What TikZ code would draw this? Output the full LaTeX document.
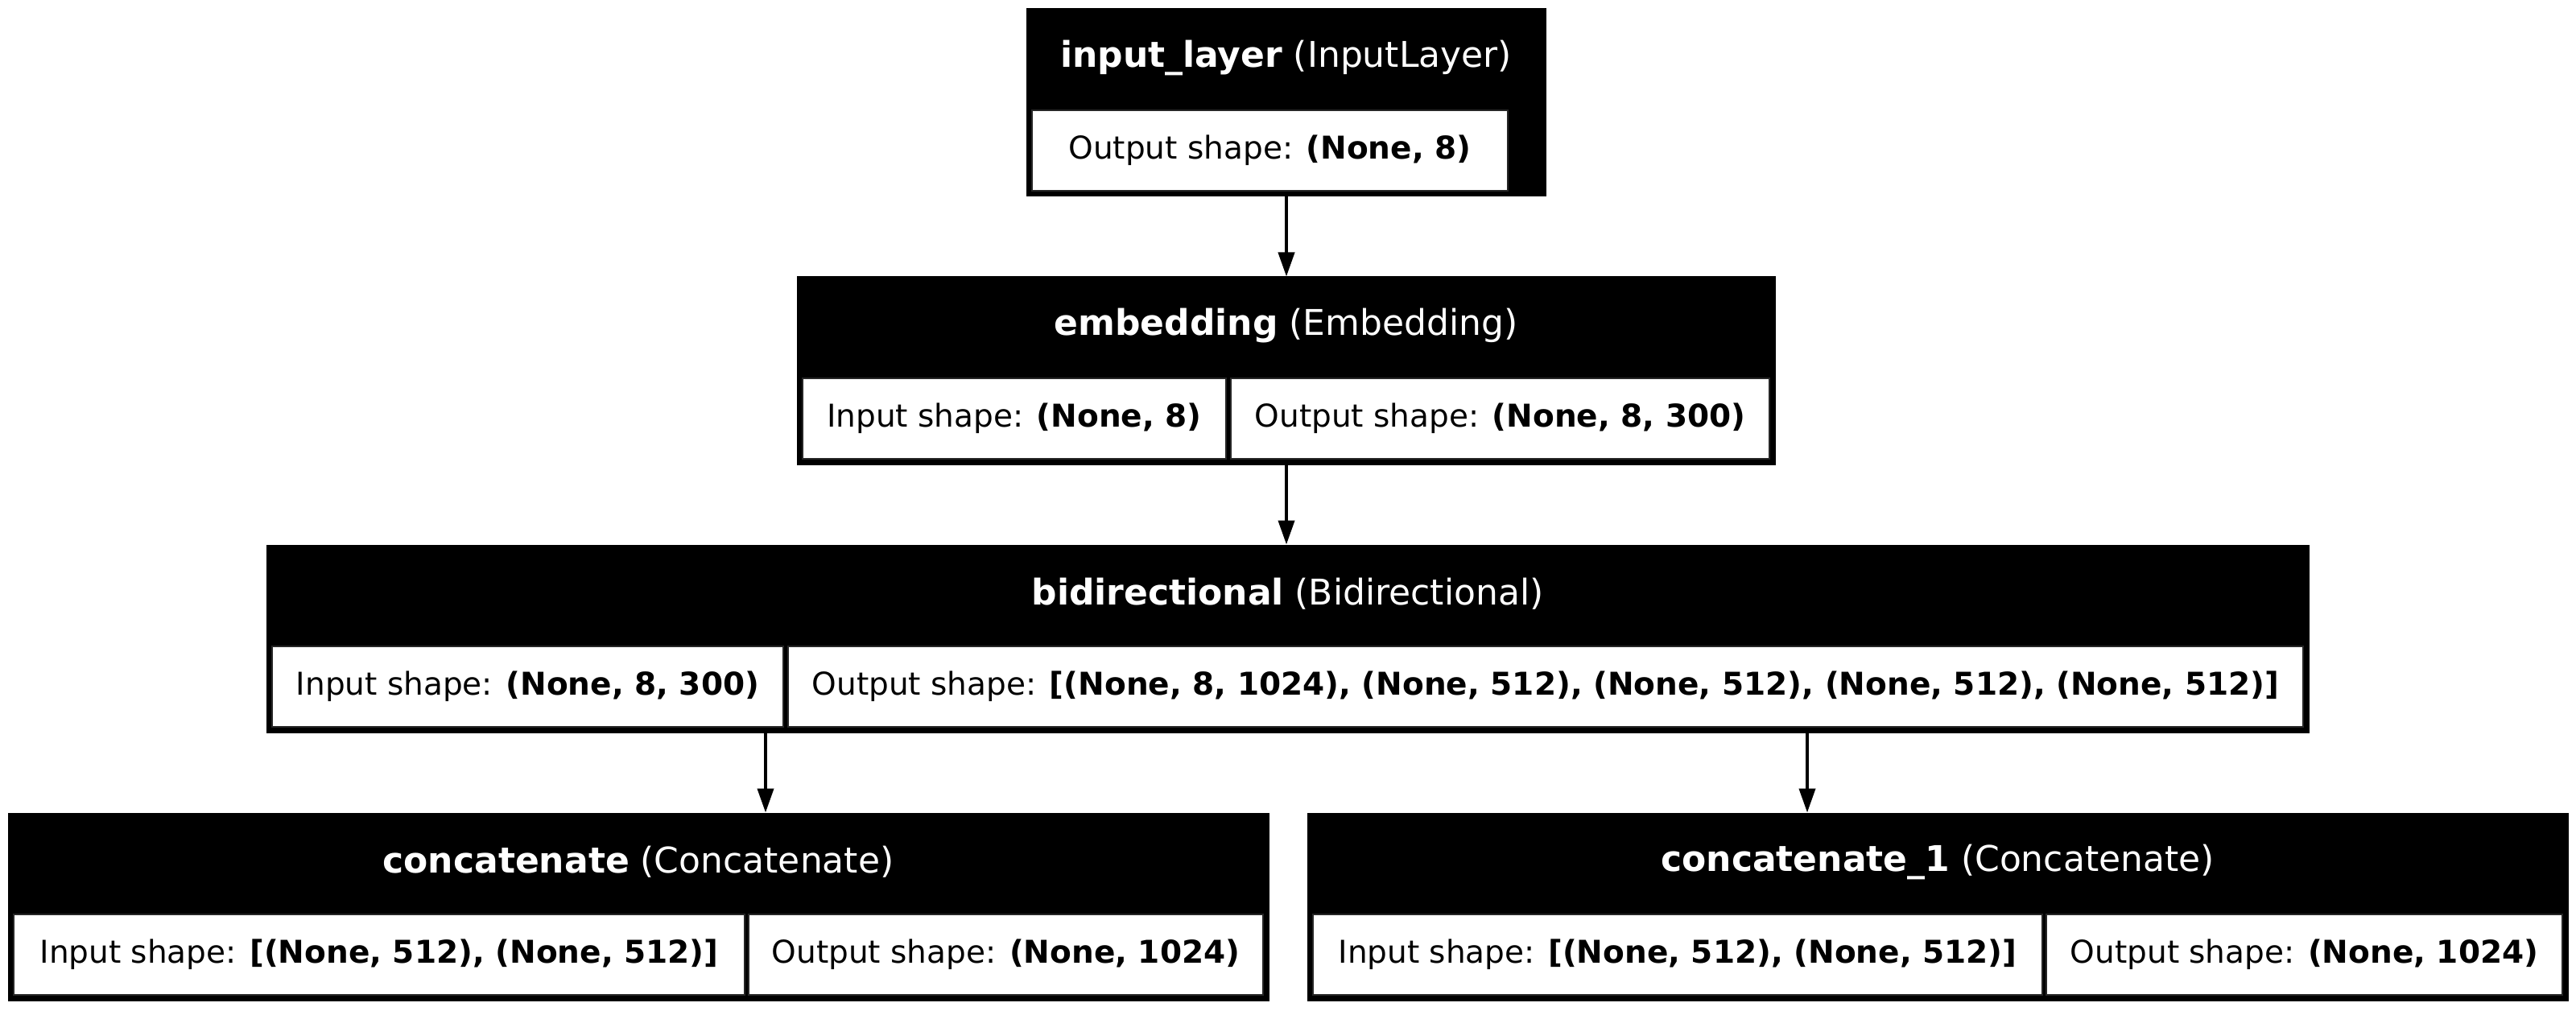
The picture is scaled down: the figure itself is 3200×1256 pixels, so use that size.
\documentclass[tikz,border=0pt]{standalone}
\usepackage{fontspec}
\setmainfont{DejaVu Sans}
\usetikzlibrary{fit,arrows.meta}
\begin{document}
\begin{tikzpicture}[x=0.5pt,y=-0.5pt,
  outerbox/.style={fill=black, draw=black, line width=0.5pt, inner sep=0pt},
  cellbox/.style={fill=white, draw=black!85, line width=0.6pt, inner sep=0pt},
  ttl/.style={text=white, font=\fontsize{22}{26}\selectfont, inner sep=0pt, anchor=center},
  ctxt/.style={text=black, font=\fontsize{19.5}{23}\selectfont, inner sep=0pt, anchor=center},
  arr/.style={line width=2pt, -{Triangle[length=15pt,width=10pt]}}]
\useasboundingbox (0,0) rectangle (3200,1256);

% row 1: input_layer
\node[outerbox, fit={(1275,11) (1920,244)}] (inp) {};
\node[cellbox, fit={(1282,137) (1873,237)}] (inpo) {};
\node[ttl] (inpt) at (1597.5,72) {\textbf{input\_layer} (InputLayer)};
\node[ctxt] (inpot) at (inpo.center) {Output shape: \textbf{(None, 8)}};

% row 2: embedding
\node[outerbox, fit={(990,344) (2205,577)}] (emb) {};
\node[cellbox, fit={(997,470) (1523,570)}] (embi) {};
\node[cellbox, fit={(1529,470) (2198,570)}] (embo) {};
\node[ttl] (embt) at (1597.5,405) {\textbf{embedding} (Embedding)};
\node[ctxt] (embit) at (embi.center) {Input shape: \textbf{(None, 8)}};
\node[ctxt] (embot) at (embo.center) {Output shape: \textbf{(None, 8, 300)}};

% row 3: bidirectional
\node[outerbox, fit={(331,677) (2868,910)}] (bidi) {};
\node[cellbox, fit={(338,803) (973,903)}] (bidii) {};
\node[cellbox, fit={(979,803) (2861,903)}] (bidio) {};
\node[ttl] (bidit) at (1599.5,738) {\textbf{bidirectional} (Bidirectional)};
\node[ctxt] (biditx) at (bidii.center) {Input shape: \textbf{(None, 8, 300)}};
\node[ctxt] (bidiot) at (bidio.center) {Output shape: \textbf{[(None, 8, 1024), (None, 512), (None, 512), (None, 512), (None, 512)]}};

% row 4 left: concatenate
\node[outerbox, fit={(10,1010) (1576,1243)}] (cat) {};
\node[cellbox, fit={(17,1136) (925,1236)}] (cati) {};
\node[cellbox, fit={(930,1136) (1569,1236)}] (cato) {};
\node[ttl] (catt) at (793,1071) {\textbf{concatenate} (Concatenate)};
\node[ctxt] (catit) at (cati.center) {Input shape: \textbf{[(None, 512), (None, 512)]}};
\node[ctxt] (catot) at (cato.center) {Output shape: \textbf{(None, 1024)}};

% row 4 right: concatenate_1
\node[outerbox, fit={(1624,1010) (3190,1243)}] (catb) {};
\node[cellbox, fit={(1631,1136) (2537,1236)}] (catbi) {};
\node[cellbox, fit={(2542,1136) (3183,1236)}] (catbo) {};
\node[ttl] (catbt) at (2407,1071) {\textbf{concatenate\_1} (Concatenate)};
\node[ctxt] (catbit) at (catbi.center) {Input shape: \textbf{[(None, 512), (None, 512)]}};
\node[ctxt] (catbot) at (catbo.center) {Output shape: \textbf{(None, 1024)}};

% connectors
\coordinate (xm) at (1598,0);
\coordinate (xl) at (951,0);
\coordinate (xr) at (2245,0);
\draw[arr] (inp.south -| xm) -- (emb.north -| xm);
\draw[arr] (emb.south -| xm) -- (bidi.north -| xm);
\draw[arr] (bidi.south -| xl) -- (cat.north -| xl);
\draw[arr] (bidi.south -| xr) -- (catb.north -| xr);
\end{tikzpicture}
\end{document}
